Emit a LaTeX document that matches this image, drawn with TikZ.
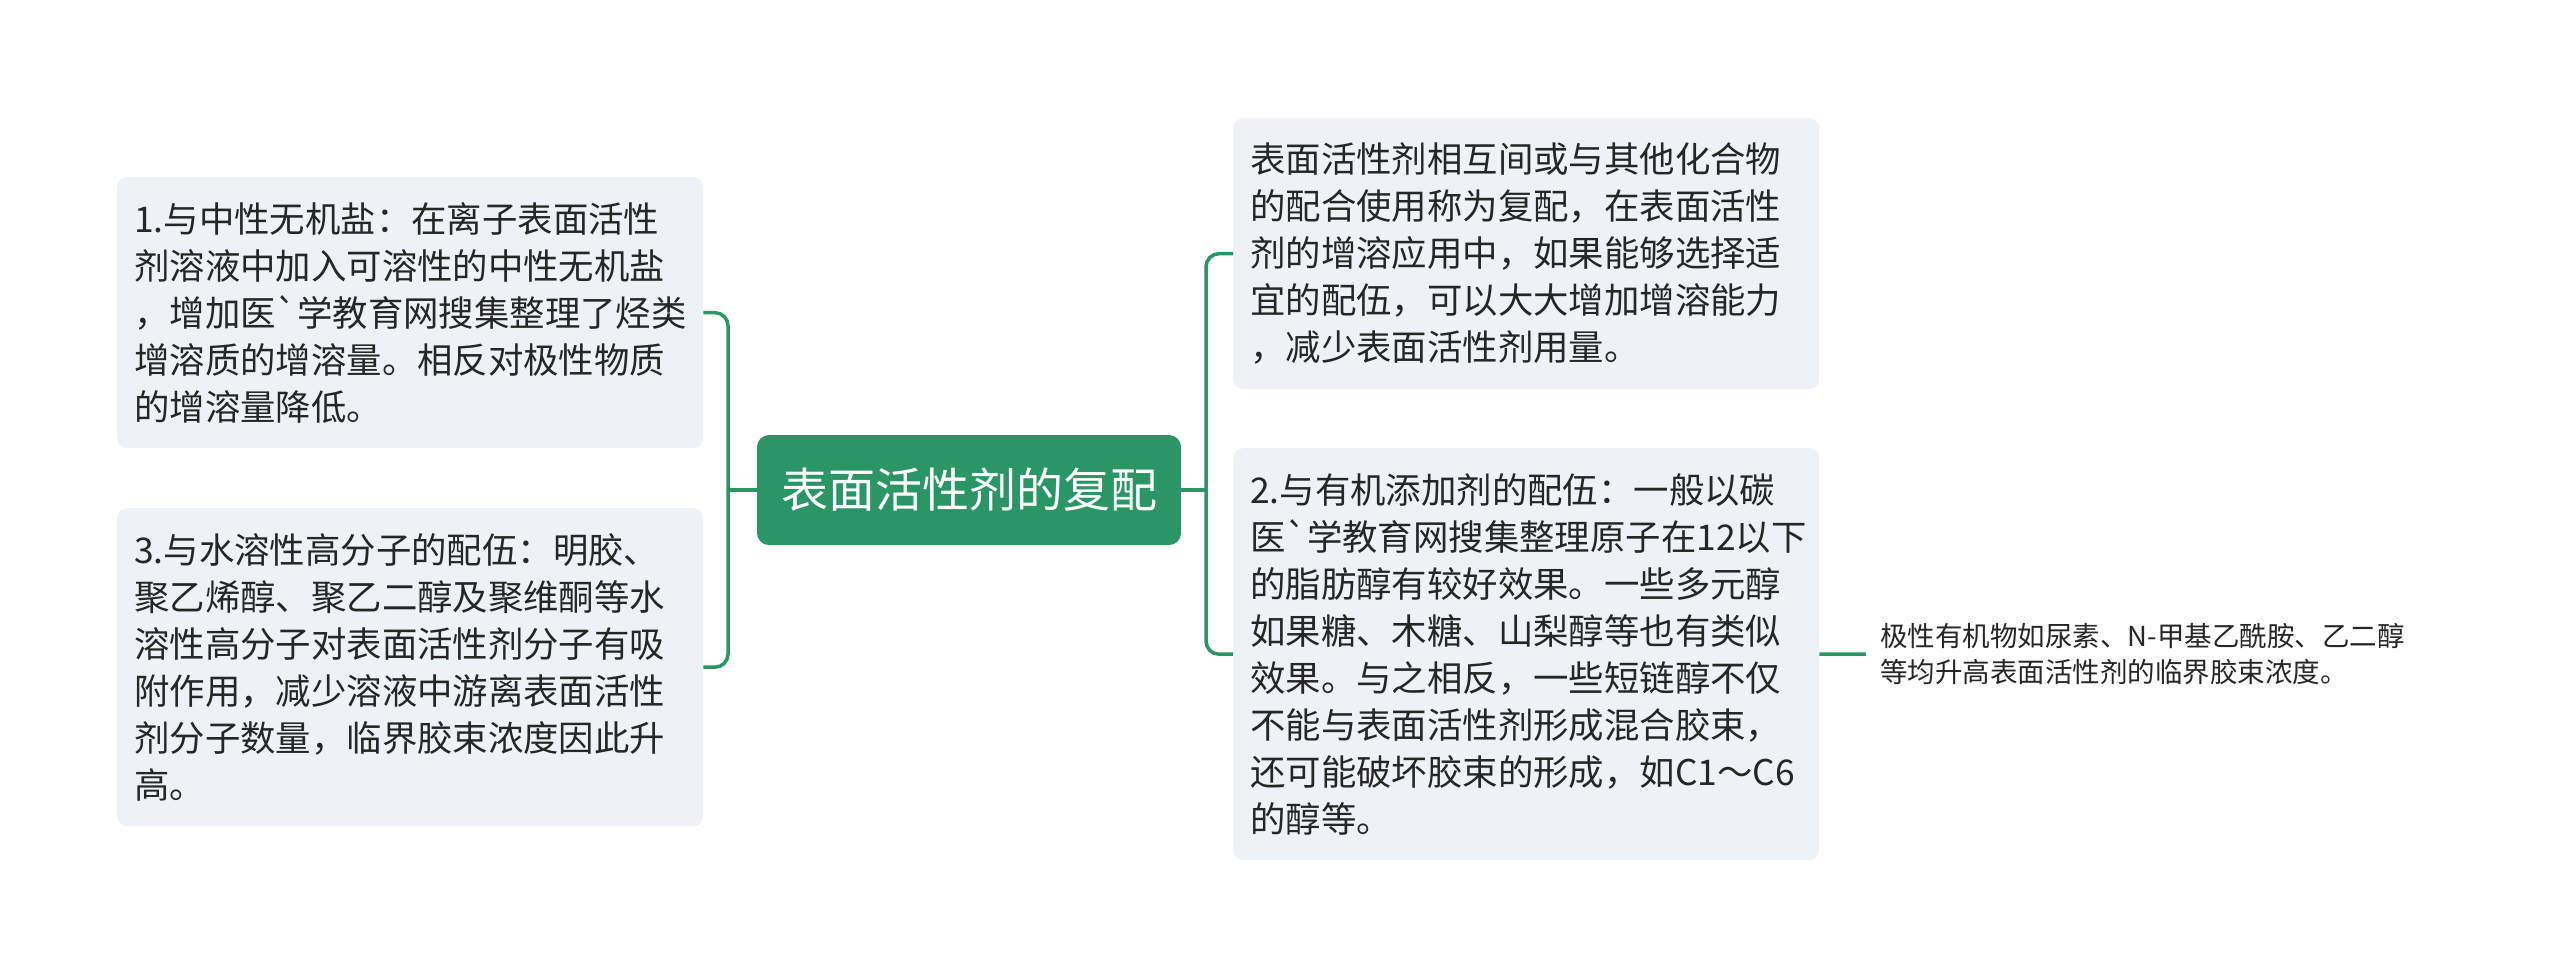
\documentclass[tikz,border=0pt]{standalone}
\usepackage{fontspec}
\newfontfamily\cjk{Noto Sans CJK SC}
\definecolor{mmgreen}{RGB}{43,150,101}
\definecolor{boxgray}{RGB}{238,241,245}
\definecolor{txt}{RGB}{38,38,38}
\begin{document}
\begin{tikzpicture}[x=1pt,y=-1pt,
  box/.style={fill=boxgray, rounded corners=10pt, anchor=north west, text width=552pt,
    inner xsep=17pt, inner ysep=0pt, align=left, text=txt, minimum width=586pt,
    font=\cjk\fontsize{35.4}{47}\selectfont},
  rootbox/.style={fill=mmgreen, rounded corners=12pt, text=white, minimum width=424pt,
    minimum height=110pt, inner sep=0pt, font=\cjk\fontsize{47}{56}\selectfont},
  leafbox/.style={anchor=west, inner xsep=14pt, inner ysep=0pt, align=left, text=txt,
    font=\cjk\fontsize{27.5}{36}\selectfont},
  conn/.style={draw=mmgreen, line width=3.5pt}]
\useasboundingbox (0,0) rectangle (2560,978);
\fill[white] (0,0) rectangle (2560,978);

\node[rootbox] (c) at (969,490) {表面活性剂的复配};

\node[box, minimum height=271pt] (b1) at (117,177) {1.与中性无机盐：在离子表面活性\\剂溶液中加入可溶性的中性无机盐\\，增加医`学教育网搜集整理了烃类\\增溶质的增溶量。相反对极性物质\\的增溶量降低。};

\node[box, minimum height=318pt] (b3) at (117,508) {3.与水溶性高分子的配伍：明胶、\\聚乙烯醇、聚乙二醇及聚维酮等水\\溶性高分子对表面活性剂分子有吸\\附作用，减少溶液中游离表面活性\\剂分子数量，临界胶束浓度因此升\\高。};

\node[box, minimum height=271pt] (bA) at (1233,118) {表面活性剂相互间或与其他化合物\\的配合使用称为复配，在表面活性\\剂的增溶应用中，如果能够选择适\\宜的配伍，可以大大增加增溶能力\\，减少表面活性剂用量。};

\node[box, minimum height=412pt] (b2) at (1233,448) {2.与有机添加剂的配伍：一般以碳\\医`学教育网搜集整理原子在12以下\\的脂肪醇有较好效果。一些多元醇\\如果糖、木糖、山梨醇等也有类似\\效果。与之相反，一些短链醇不仅\\不能与表面活性剂形成混合胶束，\\还可能破坏胶束的形成，如C1～C6\\的醇等。};

\node[leafbox] (leaf) at (1866,654) {极性有机物如尿素、N-甲基乙酰胺、乙二醇\\等均升高表面活性剂的临界胶束浓度。};

\coordinate (lj) at (728,490);
\coordinate (rj) at (1206,490);
\draw[conn] (c.west) -- (lj);
\draw[conn, rounded corners=13pt] (lj) |- (b1.east);
\draw[conn, rounded corners=13pt] (lj) |- (b3.east);
\draw[conn] (c.east) -- (rj);
\draw[conn, rounded corners=13pt] (rj) |- (bA.west);
\draw[conn, rounded corners=13pt] (rj) |- (b2.west);
\draw[conn] (b2.east) -- (leaf.west);
\end{tikzpicture}
\end{document}
